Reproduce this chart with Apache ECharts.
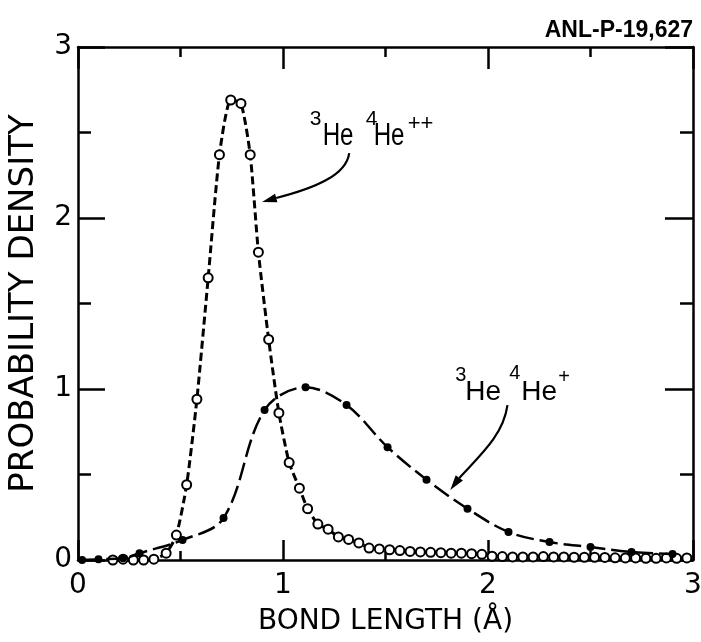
<!DOCTYPE html>
<html>
<head>
<meta charset="utf-8">
<script src="https://cdn.jsdelivr.net/npm/echarts@6/dist/echarts.min.js"></script>
<style>
  html, body { margin: 0; background: #fff; }
  #chart { width: 701px; height: 642px; }
</style>
</head>
<body>
<div id="chart"></div>
<script>
// 3He4He++ : open circles, short dashes
const heppX = [0.17, 0.22, 0.27, 0.32, 0.37, 0.43, 0.48, 0.53, 0.58, 0.635, 0.69, 0.745, 0.795, 0.84, 0.88,
  0.93, 0.98, 1.03, 1.08, 1.12, 1.17, 1.22, 1.27, 1.32, 1.37, 1.42, 1.47, 1.52, 1.57, 1.62, 1.67, 1.72,
  1.77, 1.82, 1.87, 1.92, 1.97, 2.02, 2.07, 2.12, 2.17, 2.22, 2.27, 2.32, 2.37, 2.42, 2.47, 2.52, 2.57,
  2.62, 2.67, 2.72, 2.77, 2.82, 2.87, 2.92, 2.97];
const heppY = [0.0, 0.005, 0.0, 0.0, 0.005, 0.04, 0.146, 0.44, 0.94, 1.65, 2.37, 2.69, 2.67, 2.37, 1.80,
  1.29, 0.86, 0.57, 0.42, 0.30, 0.21, 0.18, 0.135, 0.12, 0.10, 0.07, 0.065, 0.06, 0.055, 0.05, 0.047, 0.045,
  0.043, 0.04, 0.04, 0.037, 0.033, 0.022, 0.02, 0.018, 0.018, 0.018, 0.02, 0.018, 0.018, 0.016, 0.016, 0.016, 0.015,
  0.013, 0.012, 0.012, 0.01, 0.01, 0.012, 0.01, 0.012];

// 3He4He+ : filled circles, long dashes
const hepX = [0.02, 0.10, 0.22, 0.30, 0.51, 0.71, 0.91, 1.11, 1.31, 1.51, 1.70, 1.90, 2.10, 2.30, 2.50, 2.70, 2.90];
const hepY = [0.0, 0.005, 0.01, 0.04, 0.117, 0.245, 0.877, 1.01, 0.906, 0.66, 0.47, 0.30, 0.164, 0.105, 0.076, 0.047, 0.035];

// annotation anchors (data coords): label left/baseline, arrow tail -> c1 -> c2 -> head base -> tip
const labelPP = [1.13, 2.41];
const labelP = [1.84, 0.924];
const arrowPP = [[1.323, 2.38], [1.309, 2.251], [1.157, 2.175], [0.967, 2.117], [0.898, 2.094]];
const arrowP = [[2.095, 0.906], [2.075, 0.731], [1.963, 0.614], [1.860, 0.480], [1.816, 0.409]];

const FONT = "'DejaVu Sans', sans-serif";
const LFONT = "'Liberation Sans', Arial, sans-serif";
const BLACK = "#000";

const chart = echarts.init(document.getElementById("chart"), null, { renderer: "canvas" });

function frameAxis(position, tickLen, minorLen, extra) {
  return {
    type: "value",
    position,
    min: 0,
    max: 3,
    interval: 1,
    axisLine: { show: true, onZero: false, lineStyle: { color: BLACK, width: 2.5 } },
    axisTick: { show: true, inside: true, length: tickLen, lineStyle: { color: BLACK, width: 2.5 } },
    minorTick: { show: true, splitNumber: 2, length: minorLen, lineStyle: { color: BLACK, width: 2.5 } },
    splitLine: { show: false },
    axisLabel: { show: false },
    ...extra,
  };
}

chart.setOption({
  animation: false,
  backgroundColor: "#fff",
  title: {
    text: "ANL-P-19,627",
    right: 3,
    top: 14,
    textStyle: { fontFamily: LFONT, fontSize: 23, fontWeight: "bold", color: BLACK },
  },
  grid: { left: 78, right: 8, top: 47, bottom: 82, containLabel: false, outerBoundsMode: "none" },
  xAxis: [
    frameAxis("bottom", 20, 9, {
      axisLabel: { show: true, color: BLACK, fontFamily: FONT, fontSize: 28, margin: 12 },
      name: "BOND LENGTH (Å)",
      nameLocation: "middle",
      nameGap: 48,
      nameTextStyle: { color: BLACK, fontFamily: FONT, fontSize: 28 },
    }),
    frameAxis("top", 22, 10),
  ],
  yAxis: [
    frameAxis("left", 27, 13, {
      axisLabel: { show: true, color: BLACK, fontFamily: FONT, fontSize: 28, margin: 6 },
      name: "PROBABILITY DENSITY",
      nameLocation: "middle",
      nameGap: 37,
      nameRotate: 90,
      nameTextStyle: { color: BLACK, fontFamily: FONT, fontSize: 34 },
    }),
    frameAxis("right", 28, 13),
  ],
  series: [
    {
      name: "3He4He++",
      type: "line",
      data: heppX.map((x, i) => [x, heppY[i]]),
      symbol: "emptyCircle",
      symbolSize: 9,
      itemStyle: { color: BLACK, borderWidth: 2.2 },
      lineStyle: { color: BLACK, width: 3, type: [8, 4] },
      smooth: 0.2,
      z: 3,
    },
    {
      name: "3He4He+",
      type: "line",
      data: hepX.map((x, i) => [x, hepY[i]]),
      symbol: "circle",
      symbolSize: 8,
      itemStyle: { color: BLACK },
      lineStyle: { color: BLACK, width: 2.5, type: [18, 6] },
      smooth: 0.35,
      z: 4,
    },
  ],
});

const px = (d) => chart.convertToPixel({ xAxisIndex: 0, yAxisIndex: 0 }, d);

// parts: [text, dx, dy (middle), fontSize, scaleX]
function label(anchor, parts) {
  const a = px(anchor);
  return {
    type: "group",
    x: a[0],
    y: a[1],
    children: parts.map(([text, dx, dy, size, sx]) => ({
      type: "text",
      x: dx,
      y: dy,
      scaleX: sx || 1,
      style: { text, fill: BLACK, font: `${size}px ${LFONT}`, verticalAlign: "middle", align: "left" },
    })),
  };
}

function arrow(pts) {
  const [t, c1, c2, b, tip] = pts.map(px);
  const dx = tip[0] - b[0], dy = tip[1] - b[1];
  const len = Math.hypot(dx, dy);
  const nx = -dy / len * 4.5, ny = dx / len * 4.5;
  return [
    {
      type: "bezierCurve",
      shape: { x1: t[0], y1: t[1], cpx1: c1[0], cpy1: c1[1], cpx2: c2[0], cpy2: c2[1], x2: b[0], y2: b[1] },
      style: { stroke: BLACK, lineWidth: 2.2, fill: null },
    },
    {
      type: "polygon",
      shape: { points: [tip, [b[0] + nx, b[1] + ny], [b[0] - nx, b[1] - ny]] },
      style: { fill: BLACK },
    },
  ];
}

chart.setOption({
  graphic: [
    label(labelPP, [["3", 0, -29, 21], ["He", 13, -11, 31, 0.78], ["4", 56, -29, 21], ["He", 64, -11, 31, 0.78], ["++", 98, -24, 22]]),
    label(labelP, [["3", 0, -27, 20], ["He", 10, -10, 28], ["4", 54, -29, 20], ["He", 66, -10, 28], ["+", 103, -25, 20]]),
    ...arrow(arrowPP),
    ...arrow(arrowP),
  ],
});
</script>
</body>
</html>
